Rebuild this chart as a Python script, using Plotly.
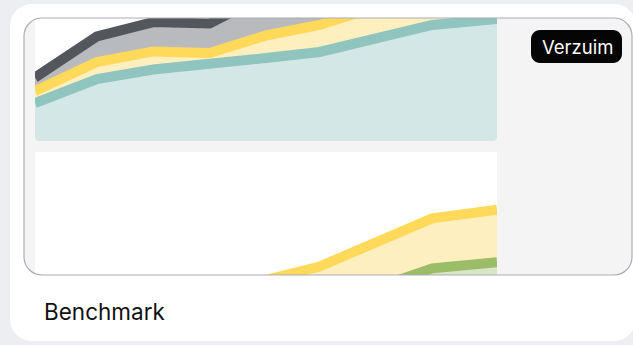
import plotly.graph_objects as go

# ---------------- data ----------------
x_pos = [0, 11, 21, 31, 41, 50.5, 70.5, 82]

# top chart (stacked layers)
top_teal = [30.9, 50.4, 58.1, 62.0, 67.5, 72.4, 94.3, 99.2]
top_yellow = [9.8, 13.8, 14.7, 9.5, 18.3, 21.9, 29.3, 27.6]
top_gray = [10.9, 20.8, 23.9, 24.0, 33.3, 35.7, 26.4, 28.2]

# bottom chart (stacked layers)
bottom_green = [4, 5, 6, 8, 10, 13.6, 45.4, 50.3]
bottom_yellow = [15, 18, 20, 22, 26, 33.3, 40.7, 42.8]

badge_label = "Verzuim"
card_title = "Benchmark"

# ---------------- helpers ----------------
W, H = 633, 345


def px(x):
    return x / W


def py(y):
    return 1 - y / H


def rrect(x0, y0, x1, y1, r):
    k = 0.5523 * r
    p = [
        f"M {px(x0 + r)},{py(y0)}",
        f"L {px(x1 - r)},{py(y0)}",
        f"C {px(x1 - r + k)},{py(y0)} {px(x1)},{py(y0 + r - k)} {px(x1)},{py(y0 + r)}",
        f"L {px(x1)},{py(y1 - r)}",
        f"C {px(x1)},{py(y1 - r + k)} {px(x1 - r + k)},{py(y1)} {px(x1 - r)},{py(y1)}",
        f"L {px(x0 + r)},{py(y1)}",
        f"C {px(x0 + r - k)},{py(y1)} {px(x0)},{py(y1 - r + k)} {px(x0)},{py(y1 - r)}",
        f"L {px(x0)},{py(y0 + r)}",
        f"C {px(x0)},{py(y0 + r - k)} {px(x0 + r - k)},{py(y0)} {px(x0 + r)},{py(y0)}",
        "Z",
    ]
    return " ".join(p)


def corner_mask(cx, cy, dx, dy, r):
    # region between a square corner at (cx,cy) and its rounded version
    k = 0.5523 * r
    ax, ay = cx + dx * r, cy
    bx, by = cx, cy + dy * r
    return (f"M {px(cx)},{py(cy)} L {px(ax)},{py(ay)} "
            f"C {px(cx + dx * (r - k))},{py(cy)} {px(cx)},{py(cy + dy * (r - k))} {px(bx)},{py(by)} Z")


PAGE = "#edeef1"
PANEL = "#f4f4f4"

fig = go.Figure()

# top chart traces
fig.add_trace(go.Scatter(x=x_pos, y=top_teal, stackgroup="top", mode="lines",
                         line=dict(color="#8fc4bf", width=10), fillcolor="#d3e7e6",
                         xaxis="x", yaxis="y"))
fig.add_trace(go.Scatter(x=x_pos, y=top_yellow, stackgroup="top", mode="lines",
                         line=dict(color="#ffd95a", width=10), fillcolor="#fdefbe",
                         xaxis="x", yaxis="y"))
fig.add_trace(go.Scatter(x=x_pos, y=top_gray, stackgroup="top", mode="lines",
                         line=dict(color="#53575c", width=10), fillcolor="#b9babe",
                         xaxis="x", yaxis="y"))

# bottom chart traces
fig.add_trace(go.Scatter(x=x_pos, y=bottom_green, stackgroup="bottom", mode="lines",
                         line=dict(color="#9cbd68", width=10), fillcolor="#d8e5c6",
                         xaxis="x2", yaxis="y2"))
fig.add_trace(go.Scatter(x=x_pos, y=bottom_yellow, stackgroup="bottom", mode="lines",
                         line=dict(color="#ffd95a", width=10), fillcolor="#fdefbf",
                         xaxis="x2", yaxis="y2"))

ax_common = dict(visible=False, showgrid=False, zeroline=False, fixedrange=True)
xdom = [px(35), px(497)]

shapes = [
    # card
    dict(type="path", path=rrect(10, 4, 636, 341, 22), xref="paper", yref="paper",
         fillcolor="#ffffff", line=dict(width=0), layer="below"),
    # inner frame panel
    dict(type="path", path=rrect(24, 18, 632, 275, 18), xref="paper", yref="paper",
         fillcolor=PANEL, line=dict(width=0), layer="below"),
    # top chart bg
    dict(type="rect", x0=px(35), x1=px(497), y0=py(141), y1=py(18), xref="paper", yref="paper",
         fillcolor="#ffffff", line=dict(width=0), layer="below"),
    # bottom chart bg
    dict(type="rect", x0=px(35), x1=px(497), y0=py(275), y1=py(152), xref="paper", yref="paper",
         fillcolor="#ffffff", line=dict(width=0), layer="below"),
    # rounded bottom corners of top chart
    dict(type="path", path=corner_mask(35, 141, 1, -1, 4), xref="paper", yref="paper",
         fillcolor=PANEL, line=dict(width=0), layer="above"),
    dict(type="path", path=corner_mask(497, 141, -1, -1, 4), xref="paper", yref="paper",
         fillcolor=PANEL, line=dict(width=0), layer="above"),
    # frame corner masks (outside = white card)
    dict(type="path", path=corner_mask(24, 18, 1, 1, 18), xref="paper", yref="paper",
         fillcolor="#ffffff", line=dict(width=0), layer="above"),
    dict(type="path", path=corner_mask(24, 275, 1, -1, 18), xref="paper", yref="paper",
         fillcolor="#ffffff", line=dict(width=0), layer="above"),
    # frame border
    dict(type="path", path=rrect(24, 18, 632, 275, 18), xref="paper", yref="paper",
         fillcolor="rgba(0,0,0,0)", line=dict(color="#acacb5", width=1.2), layer="above"),
    # badge
    dict(type="path", path=rrect(531, 30, 622, 63, 9), xref="paper", yref="paper",
         fillcolor="#050505", line=dict(width=0), layer="above"),
]

annotations = [
    dict(text=badge_label, x=px(577), y=py(47), xref="paper", yref="paper",
         showarrow=False, xanchor="center", yanchor="middle",
         font=dict(family="Inter, sans-serif", size=18.5, color="#ffffff")),
    dict(text=card_title, x=px(42), y=py(311), xref="paper", yref="paper",
         showarrow=False, xanchor="left", yanchor="middle",
         font=dict(family="Inter, sans-serif", size=22.5, color="#111111")),
]

fig.update_layout(
    width=W, height=H,
    margin=dict(l=0, r=0, t=0, b=0),
    paper_bgcolor=PAGE,
    plot_bgcolor="rgba(0,0,0,0)",
    showlegend=False,
    hovermode=False,
    xaxis=dict(domain=xdom, range=[0, 82], anchor="y", **ax_common),
    yaxis=dict(domain=[py(141), py(18)], range=[0, 100], anchor="x", **ax_common),
    xaxis2=dict(domain=xdom, range=[0, 82], anchor="y2", **ax_common),
    yaxis2=dict(domain=[py(275), py(152)], range=[40, 140], anchor="x2", **ax_common),
    shapes=shapes,
    annotations=annotations,
)

fig.write_html(
    "out.html",
    config={"displayModeBar": False, "staticPlot": True},
    post_script="document.body.style.margin='0';document.body.style.overflow='hidden';"
                "document.body.style.background='" + PAGE + "';",
)
